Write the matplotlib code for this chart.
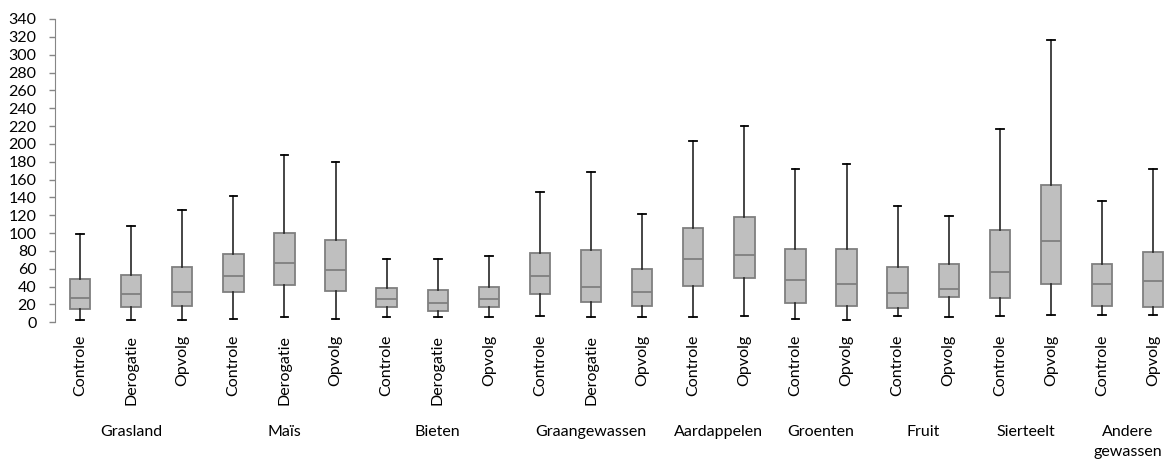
import numpy as np
import matplotlib
matplotlib.use('Agg')
import matplotlib.pyplot as plt
import matplotlib.transforms as mtransforms

plt.rcParams['font.family'] = ['Lato', 'DejaVu Sans']

# categories (per box) and their groups
groups = ['Grasland', 'Maïs', 'Bieten', 'Graangewassen', 'Aardappelen',
          'Groenten', 'Fruit', 'Sierteelt', 'Andere\ngewassen']
group_sizes = [3, 3, 3, 3, 2, 2, 2, 2, 2]
labels = ['Controle', 'Derogatie', 'Opvolg',
          'Controle', 'Derogatie', 'Opvolg',
          'Controle', 'Derogatie', 'Opvolg',
          'Controle', 'Derogatie', 'Opvolg',
          'Controle', 'Opvolg',
          'Controle', 'Opvolg',
          'Controle', 'Opvolg',
          'Controle', 'Opvolg',
          'Controle', 'Opvolg']

# box statistics
whislo = [2.6, 2.6, 2.6, 3.7, 5.6, 3.7, 5.6, 6.3, 6.3, 7.4, 6.3, 5.6,
          5.6, 6.7, 3.7, 2.6, 7.4, 5.6, 7.4, 8.5, 8.5, 8.5]
q1 = [15.3, 17.6, 18.7, 33.7, 42.0, 34.9, 17.2, 12.7, 16.9, 31.5, 22.5, 18.7,
      40.8, 49.5, 21.4, 18.0, 15.7, 28.5, 27.0, 43.1, 18.3, 17.6]
med = [27.7, 31.8, 33.7, 51.7, 66.7, 58.5, 25.9, 21.7, 25.9, 52.4, 39.7, 34.4,
       70.9, 75.7, 47.6, 42.7, 32.6, 37.8, 56.9, 91.1, 42.7, 46.4]
q3 = [48.4, 53.5, 61.9, 76.5, 99.7, 92.6, 38.9, 36.0, 40.0, 77.2, 81.0, 59.6,
      105.7, 117.7, 82.1, 82.1, 61.9, 64.8, 103.0, 153.7, 64.8, 78.7]
whishi = [98.5, 108.0, 126.3, 141.3, 187.4, 179.5, 71.0, 71.5, 74.6, 146.2, 168.3, 121.5,
          203.6, 219.7, 171.6, 177.7, 130.8, 118.8, 216.7, 316.7, 135.6, 171.3]

stats = []
for i in range(len(labels)):
    stats.append({'med': med[i], 'q1': q1[i], 'q3': q3[i],
                  'whislo': whislo[i], 'whishi': whishi[i], 'fliers': []})

fig = plt.figure(figsize=(11.65, 4.59), dpi=100)
ax = fig.add_axes([54.5/1165, 1-322.3/459, 22*51.1/1165, (322.3-19)/459])

pos = np.arange(len(labels))
ax.bxp(stats, positions=pos, widths=0.4, patch_artist=True, showfliers=False,
       capwidths=0.15,
       boxprops=dict(facecolor='#BFBFBF', edgecolor='#7F7F7F', linewidth=1.3),
       medianprops=dict(color='#7F7F7F', linewidth=1.3),
       whiskerprops=dict(color='#262626', linewidth=1.2),
       capprops=dict(color='#000000', linewidth=1.3))

ax.set_xlim(-0.5, len(labels) - 0.5)
ax.set_ylim(0, 340)
ax.set_yticks(np.arange(0, 341, 20))
ax.set_xticks(pos)
ax.set_xticklabels(labels, rotation=90, fontsize=11.5)
ax.tick_params(axis='x', length=0, pad=9)
ax.tick_params(axis='y', length=4, width=1, color='#868686', labelsize=11.5, pad=9)

for s in ['top', 'right', 'bottom']:
    ax.spines[s].set_visible(False)
ax.spines['left'].set_color('#868686')

# group labels under the rotated category labels
trans = mtransforms.blended_transform_factory(ax.transData, fig.transFigure)
start = 0
for g, n in zip(groups, group_sizes):
    xc = start + (n - 1) / 2
    ax.text(xc, 1 - 425/459, g, transform=trans, ha='center', va='top',
            fontsize=11.5, linespacing=1.55)
    start += n

fig.savefig('out.png', dpi=100)
